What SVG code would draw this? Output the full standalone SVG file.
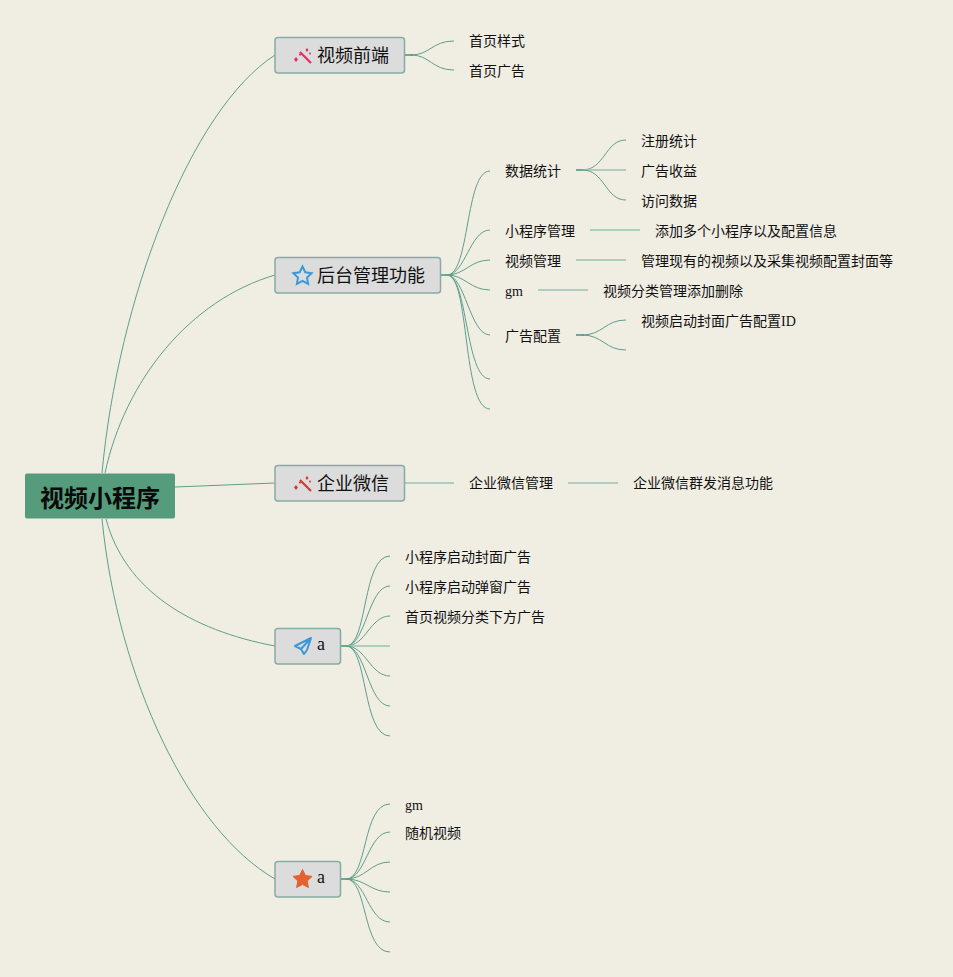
<svg xmlns="http://www.w3.org/2000/svg" width="953" height="977" viewBox="0 0 953 977">
<style>
text{font-family:"Liberation Serif","Noto Sans CJK SC",serif;fill:#111;font-size:14px}
.t{font-size:18px;text-anchor:start}
.a{font-size:18px}
.box{fill:#dcdcdc;stroke:#86ada3;stroke-width:1.500}
.c{fill:none;stroke:#5f9f8b;stroke-width:1}
.s{fill:none;stroke:#9cc2b0;stroke-width:1.500}
.h{fill:none;stroke:#6fa896;stroke-width:2}
</style>
<defs>
<g id="wand"><path d="M-3 -4L8 7" fill="none" stroke="currentColor" stroke-width="2.200"/><path d="M-7 1l2 2.500-2 2.500-2-2.500zM-3 -3l1.200 1.500-1.200 1.500-1.200-1.500zM4 -8l1.500 2-1.500 2-1.500-2zM7 -4l1 1.500-1 1.500-1-1.500z" fill="currentColor"/></g>
</defs>
<rect width="953" height="977" fill="#f0ede3"/>
<g id="connectors">
<path class="c" d="M102 473C118 300 190 110 275 55"/>
<path class="c" d="M105 473C125 380 190 300 275 275"/>
<path class="c" d="M175 487L275 483"/>
<path class="c" d="M106 519C125 590 190 630 275 646"/>
<path class="c" d="M102 519C118 680 190 830 275 879"/>
<path class="h" d="M405 55H413"/>
<path class="c" d="M411 55C430 55 432 41 454 41"/>
<path class="c" d="M411 55C430 55 432 70 454 70"/>
<path class="h" d="M441 275H449"/>
<path class="c" d="M447 275C470 275 465 171 490 171"/>
<path class="c" d="M447 275C465 275 470 230 490 230"/>
<path class="c" d="M447 275C465 275 470 260 490 260"/>
<path class="c" d="M447 275C465 275 470 290 490 290"/>
<path class="c" d="M447 275C465 275 470 335 490 335"/>
<path class="c" d="M447 275C468 275 465 379 490 379"/>
<path class="c" d="M447 275C470 275 462 409 490 409"/>
<path class="h" d="M576 170H584"/>
<path class="c" d="M582 170C605 170 605 140 626 140"/>
<path class="s" d="M582 170H626"/>
<path class="c" d="M582 170C605 170 605 200 626 200"/>
<path class="s" d="M590 230H640"/>
<path class="s" d="M576 260H626"/>
<path class="s" d="M538 290H588"/>
<path class="h" d="M576 335H584"/>
<path class="c" d="M582 335C603 335 605 320 626 320"/>
<path class="c" d="M582 335C603 335 605 350 626 350"/>
<path class="s" d="M405 483H454"/>
<path class="s" d="M568 483H618"/>
<path class="h" d="M341 646H349"/>
<path class="c" d="M346 646C368 646 362 556 390 556"/>
<path class="c" d="M346 646C366 646 368 586 390 586"/>
<path class="c" d="M346 646C366 646 370 616 390 616"/>
<path class="s" d="M346 646H390"/>
<path class="c" d="M346 646C366 646 370 676 390 676"/>
<path class="c" d="M346 646C366 646 368 706 390 706"/>
<path class="c" d="M346 646C368 646 362 736 390 736"/>
<path class="h" d="M341 879H349"/>
<path class="c" d="M346 879C368 879 362 804 390 804"/>
<path class="c" d="M346 879C366 879 368 832 390 832"/>
<path class="c" d="M346 879C366 879 370 862 390 862"/>
<path class="c" d="M346 879C366 879 370 892 390 892"/>
<path class="c" d="M346 879C366 879 368 922 390 922"/>
<path class="c" d="M346 879C368 879 362 952 390 952"/>
</g>
<g id="root"><rect x="25" y="473.500" width="150" height="45" rx="2" fill="#559c7d"/><text x="100" y="507" text-anchor="middle" style="font-size:24px;font-weight:bold;fill:#0a0a0a">视频小程序</text></g>
<g id="n1"><rect class="box" x="275" y="37.500" width="129.500" height="35.500" rx="3"/><use href="#wand" x="303" y="56" color="#e0305f"/><text class="t" x="317" y="62">视频前端</text></g>
<g id="n2"><rect class="box" x="275" y="257.500" width="165.500" height="35.500" rx="3"/><path d="M302.500 266.500l2.800 5.800 6.300 .9-4.600 4.400 1.100 6.300-5.600-3-5.600 3 1.100-6.300-4.600-4.400 6.300-.9z" fill="none" stroke="#3a9ad9" stroke-width="2"/><text class="t" x="317" y="282">后台管理功能</text></g>
<g id="n3"><rect class="box" x="275" y="465.500" width="129.500" height="35.500" rx="3"/><use href="#wand" x="303" y="484" color="#d03a35"/><text class="t" x="317" y="490">企业微信</text></g>
<g id="n4"><rect class="box" x="275" y="628.500" width="65.500" height="35.500" rx="3"/><path d="M311 638L295 646L301 649L304 654L307 650L311 638ZM311 638L301 649" fill="none" stroke="#3a9ad9" stroke-width="2" stroke-linejoin="round"/><text class="a" x="317" y="650">a</text></g>
<g id="n5"><rect class="box" x="275" y="861.500" width="65.500" height="35.500" rx="3"/><path d="M302.500 869.500l2.900 6 6.600 .9-4.800 4.600 1.200 6.500-5.900-3.100-5.900 3.100 1.200-6.500-4.800-4.600 6.600-.9z" fill="#e4622f" stroke="#e4622f"/><text class="a" x="317" y="883">a</text></g>
<g id="labels">
<text x="469" y="46">首页样式</text>
<text x="469" y="76">首页广告</text>
<text x="505" y="176">数据统计</text>
<text x="505" y="236">小程序管理</text>
<text x="505" y="266">视频管理</text>
<text x="505" y="296">gm</text>
<text x="505" y="341">广告配置</text>
<text x="641" y="146">注册统计</text>
<text x="641" y="176">广告收益</text>
<text x="641" y="206">访问数据</text>
<text x="655" y="236">添加多个小程序以及配置信息</text>
<text x="641" y="266">管理现有的视频以及采集视频配置封面等</text>
<text x="603" y="296">视频分类管理添加删除</text>
<text x="641" y="326">视频启动封面广告配置ID</text>
<text x="469" y="488">企业微信管理</text>
<text x="633" y="488">企业微信群发消息功能</text>
<text x="405" y="562">小程序启动封面广告</text>
<text x="405" y="592">小程序启动弹窗广告</text>
<text x="405" y="622">首页视频分类下方广告</text>
<text x="405" y="810">gm</text>
<text x="405" y="838">随机视频</text>
</g>
</svg>
